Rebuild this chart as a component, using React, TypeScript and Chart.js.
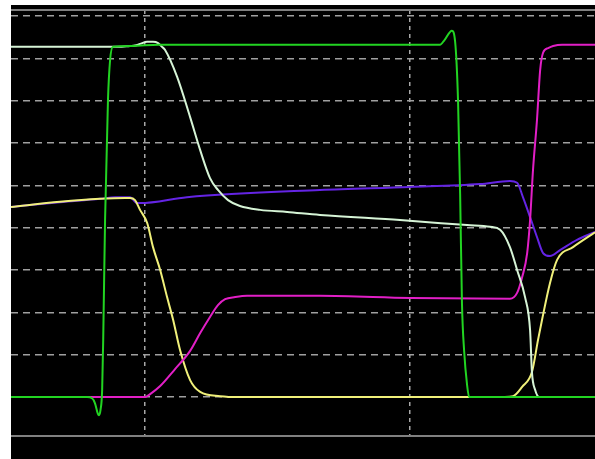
import React, { useEffect, useRef } from "react";
import { Chart, registerables } from "chart.js";

Chart.register(...registerables);

// x in time units (one vertical division = 100), y in level units (one horizontal division = 10)
const xMin = 49.4;
const xMax = 269.8;
const yMin = -9.2;
const yMax = 91.4;
const xGridTicks = [100, 200];
const yGridTicks = [0, 10, 20, 30, 40, 50, 60, 70, 80, 90];

const greenX = [49.4, 78.1, 80.0, 81.1, 82.2, 82.6, 83.2, 83.8, 84.2, 84.9, 86.0, 86.8, 87.9, 95.0, 105.0, 211.3, 213.0, 215.8, 217.0, 218.1, 218.9, 219.6, 220.4, 221.5, 222.3, 269.8];
const greenY = [0, 0, -0.3, -1.5, -4.0, -4.3, -3.0, 1.7, 13.5, 41.8, 70.2, 79.6, 82.7, 82.9, 83.2, 83.2, 84.3, 86.5, 84.0, 70.2, 48.0, 22.0, 11.0, 3.0, 0, 0];

const paleX = [49.4, 89.8, 94.3, 96.2, 98.1, 100.8, 103.0, 104.9, 106.4, 107.5, 112.1, 117.0, 120.8, 124.5, 127.5, 131.3, 135.8, 143.4, 153.6, 166.0, 196.2, 221.5, 230.2, 234.0, 237.7, 240.4, 243.4, 245.3, 246.0, 247.2, 248.7, 269.8];
const paleY = [82.7, 82.7, 82.9, 83.0, 83.4, 83.9, 83.9, 83.6, 82.7, 82.0, 75.6, 66.1, 58.3, 51.7, 48.9, 46.5, 45.1, 44.2, 43.7, 43.0, 41.8, 40.6, 40.2, 39.5, 35.4, 30.0, 23.6, 15.8, 5.9, 1.7, 0, 0];

const yellowX = [49.4, 67.9, 83.0, 92.5, 94.3, 96.2, 98.1, 100.8, 103.0, 105.7, 108.3, 110.6, 113.2, 117.0, 120.8, 128.3, 135.8, 235.8, 238.9, 242.3, 246.0, 248.3, 249.8, 252.8, 255.5, 261.5, 269.8];
const yellowY = [44.9, 46.1, 46.8, 47.0, 47.0, 46.5, 44.2, 41.1, 35.4, 30.0, 23.6, 18.2, 11.1, 4.0, 1.2, 0.2, 0, 0, 0.2, 2.4, 5.9, 13.5, 18.2, 26.9, 32.4, 35.4, 38.9];

const purpleX = [49.4, 67.9, 83.0, 88.7, 94.3, 97.0, 98.1, 115.8, 166.0, 200.0, 226.4, 237.7, 240.4, 242.6, 245.3, 247.9, 250.2, 252.8, 256.6, 263.0, 269.8];
const purpleY = [44.9, 46.0, 46.8, 47.2, 47.2, 45.8, 45.8, 47.2, 48.9, 49.6, 50.3, 51.0, 50.6, 47.2, 42.5, 37.8, 34.0, 33.3, 34.7, 37.1, 39.0];

const magentaX = [49.4, 100.0, 101.9, 105.7, 111.3, 117.0, 120.8, 124.5, 127.5, 130.2, 134.0, 138.5, 166.0, 200.0, 237.7, 240.4, 242.3, 244.2, 245.3, 246.4, 247.9, 249.1, 250.2, 252.1, 254.0, 257.4, 269.8];
const magentaY = [0, 0, 0.7, 2.6, 6.6, 10.9, 15.1, 18.9, 21.7, 23.1, 23.6, 23.9, 23.9, 23.4, 23.2, 24.6, 28.3, 34.0, 41.8, 53.6, 65.4, 77.2, 81.3, 82.4, 82.9, 83.2, 83.2];

const zip = (xs: number[], ys: number[]) => xs.map((x, i) => ({ x, y: ys[i] }));

const frame = {
  id: "frame",
  beforeDraw(chart: any) {
    const { ctx, width, height } = chart;
    ctx.save();
    ctx.fillStyle = "#ffffff";
    ctx.fillRect(0, 0, width, height);
    ctx.fillStyle = "#000000";
    ctx.fillRect(11, 5, width - 11, height - 5);
    ctx.restore();
  },
  afterDatasetsDraw(chart: any) {
    const { ctx, chartArea } = chart;
    ctx.save();
    ctx.strokeStyle = "#808080";
    ctx.lineWidth = 2;
    ctx.beginPath();
    ctx.moveTo(chartArea.left, chartArea.top);
    ctx.lineTo(chartArea.right, chartArea.top);
    ctx.moveTo(chartArea.left, chartArea.bottom);
    ctx.lineTo(chartArea.right, chartArea.bottom);
    ctx.stroke();
    ctx.restore();
  },
};

export default function App() {
  const ref = useRef<HTMLCanvasElement>(null);
  useEffect(() => {
    if (!ref.current) return;
    const line = (data: any, color: string) => ({
      data,
      borderColor: color,
      borderWidth: 2,
      pointRadius: 0,
      fill: false,
      cubicInterpolationMode: "monotone" as const,
    });
    const chart = new Chart(ref.current, {
      type: "line",
      data: {
        datasets: [
          line(zip(greenX, greenY), "#22d422"),
          line(zip(paleX, paleY), "#d6f4d6"),
          line(zip(magentaX, magentaY), "#e21fc6"),
          line(zip(yellowX, yellowY), "#f0f07a"),
          line(zip(purpleX, purpleY), "#6424e4"),
        ],
      },
      options: {
        responsive: false,
        animation: false,
        parsing: false as any,
        layout: { autoPadding: false, padding: { left: 11, top: 10, right: 0, bottom: 23 } },
        plugins: { legend: { display: false }, tooltip: { enabled: false } },
        scales: {
          x: {
            type: "linear",
            min: xMin,
            max: xMax,
            afterBuildTicks: (axis: any) => {
              axis.ticks = xGridTicks.map((v) => ({ value: v }));
            },
            ticks: { display: false },
            grid: { color: "#a8a8a8", lineWidth: 1.5, drawTicks: false, tickLength: 0 },
            border: { display: false, dash: [4, 4] },
          },
          y: {
            type: "linear",
            min: yMin,
            max: yMax,
            afterBuildTicks: (axis: any) => {
              axis.ticks = yGridTicks.map((v) => ({ value: v }));
            },
            ticks: { display: false },
            grid: { color: "#a0a0a0", lineWidth: 1.5, drawTicks: false, tickLength: 0 },
            border: { display: false, dash: [7, 5] },
          },
        },
      },
      plugins: [frame],
    });
    return () => chart.destroy();
  }, []);
  return (
    <div style={{ position: "absolute", left: 0, top: 0, width: 595, height: 459, background: "#fff" }}>
      <canvas ref={ref} width={595} height={459} style={{ display: "block" }} />
    </div>
  );
}
